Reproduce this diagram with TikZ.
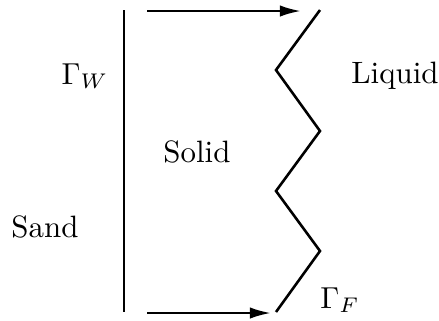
\documentclass[tikz,border=0pt]{standalone}
\usetikzlibrary{arrows.meta}
\begin{document}
\begin{tikzpicture}[x=0.33pt,y=-0.33pt,
  wall/.style={line width=0.85pt},
  flow/.style={line width=0.85pt,-{Latex[length=7pt,width=3.8pt]}},
  lbl/.style={inner sep=0pt,font=\fontsize{10.2}{12}\selectfont}]
\useasboundingbox (0,0) rectangle (439,320);
% wall
\coordinate (w1) at (124,10);
\coordinate (w2) at (124,312);
\draw[wall] (w1) -- (w2);
% arrows
\coordinate (a1) at (147,11);
\coordinate (a2) at (301,11);
\coordinate (b1) at (147,313);
\coordinate (b2) at (271,313);
\draw[flow] (a1) -- (a2);
\draw[flow] (b1) -- (b2);
% front
\coordinate (z0) at (320,10);
\coordinate (z1) at (276,70);
\coordinate (z2) at (320,131);
\coordinate (z3) at (276,191);
\coordinate (z4) at (320,251);
\coordinate (z5) at (276,312);
\draw[wall,line join=miter] (z0) -- (z1) -- (z2) -- (z3) -- (z4) -- (z5);
% labels
\node[lbl] (gw) at (85,76) {$\Gamma_W$};
\node[lbl] (liq) at (395,76) {Liquid};
\node[lbl] (sol) at (197,152) {Solid};
\node[lbl] (sand) at (45,227) {Sand};
\node[lbl] (gf) at (340,300) {$\Gamma_F$};
\end{tikzpicture}
\end{document}
